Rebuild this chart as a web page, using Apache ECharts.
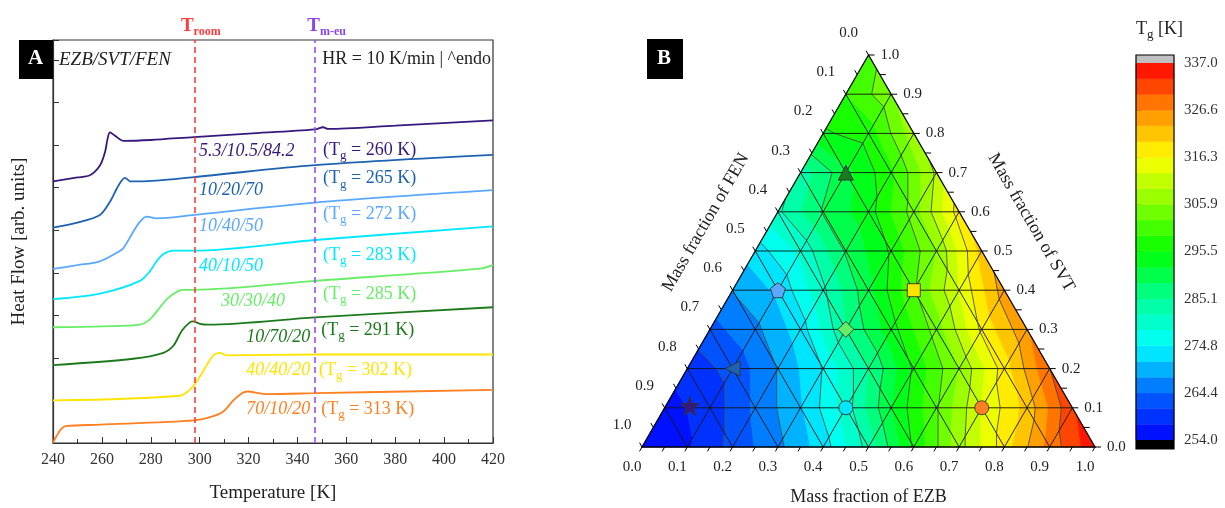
<!DOCTYPE html>
<html><head><meta charset="utf-8">
<script src="https://cdn.jsdelivr.net/npm/echarts@6/dist/echarts.min.js"></script>
<style>html,body{margin:0;padding:0;background:#fff}#c{width:1225px;height:508px}</style>
</head><body><div id="c"></div>
<script>
// ---------------- DATA: panel A (DSC curves, T [K] vs heat flow [arb.]) ----------------
const sampleEZB = [5.3, 10, 10, 40, 30, 10, 40, 70];
const sampleSVT = [10.5, 20, 40, 10, 30, 70, 40, 10];
const sampleFEN = [84.2, 70, 50, 50, 40, 20, 20, 20];
const sampleTg  = [260, 265, 272, 283, 285, 291, 302, 313];

const dsc1 = [[240,6.15],[250,6.24],[255.1,6.29],[259.2,6.52],[261.3,6.84],[262.3,7.14],[263.3,7.30],[265.4,7.22],[268.8,7.10],[280,7.12],[297.7,7.19],[320,7.27],[347.2,7.37],[350.5,7.42],[352.5,7.38],[380,7.46],[420,7.58]];
const dsc2 = [[240,5.06],[250,5.18],[259.2,5.36],[263.3,5.67],[266.1,5.98],[268.1,6.17],[269.5,6.23],[271.5,6.15],[275.6,6.15],[297.7,6.25],[347.2,6.53],[420,6.77]];
const dsc3 = [[240,4.09],[250,4.18],[259.2,4.27],[266.1,4.47],[268.8,4.58],[272.9,4.97],[275.6,5.20],[278.3,5.32],[282.4,5.28],[297.7,5.36],[347.2,5.65],[420,5.94]];
const dsc4 = [[240,3.38],[259.2,3.51],[275.6,3.81],[279.7,4.04],[282.4,4.27],[285.2,4.44],[289.3,4.52],[297.7,4.52],[347.2,4.77],[420,5.09]];
const dsc5 = [[240,2.72],[260,2.74],[275.6,2.78],[279.7,2.91],[283.8,3.19],[286.6,3.38],[290.0,3.53],[292.7,3.60],[297.7,3.60],[347.2,3.81],[414.8,4.10],[420,4.18]];
const dsc6 = [[240,1.83],[272.8,1.98],[285.2,2.12],[289.3,2.29],[292.7,2.64],[296.1,2.84],[297.4,2.86],[300.1,2.80],[303.6,2.78],[347.2,2.95],[420,3.19]];
const dsc7 = [[240,1.00],[291.9,1.11],[296.7,1.29],[300.1,1.56],[302.9,1.83],[305.6,2.06],[308.3,2.12],[311.1,2.06],[347.2,2.08],[420,2.08]];
const dsc8 = [[240,0.01],[241.4,0.16],[243.4,0.33],[245.5,0.40],[259.2,0.43],[297.7,0.53],[305.6,0.63],[309.7,0.74],[313.8,1.00],[317.3,1.17],[319.3,1.21],[327.5,1.15],[347.2,1.17],[420,1.25]];
const dscCurves = [dsc1, dsc2, dsc3, dsc4, dsc5, dsc6, dsc7, dsc8];

const tRoom = 298;   // K
const tMeltEu = 347; // K
const tempMin = 240, tempMax = 420, tempStep = 20;

// ---------------- DATA: panel B (Tg field at ternary grid nodes, rows of constant SVT) ----------------
// row index = SVT*10, entries along EZB = 0, 0.1, ...
const tgS00 = [254, 257, 262, 267, 273, 283, 296, 308, 318, 328, 336];
const tgS01 = [256, 259, 265, 271, 280, 292, 302, 313, 321, 333];
const tgS02 = [259, 262, 268, 275, 285, 296, 306, 318, 330];
const tgS03 = [263, 267, 273, 285, 294, 304, 317, 326];
const tgS04 = [268, 272, 281, 291, 302, 313, 325];
const tgS05 = [273, 279, 289, 296, 306, 321];
const tgS06 = [281, 289, 294, 304, 318];
const tgS07 = [283, 291, 298, 310];
const tgS08 = [295, 297, 308];
const tgS09 = [299, 305];
const tgS10 = [301];
const tgField = [tgS00, tgS01, tgS02, tgS03, tgS04, tgS05, tgS06, tgS07, tgS08, tgS09, tgS10];

const cbMin = 254.0, cbMax = 337.0, cbLevels = 24, cbTickCount = 8;
const ternTicks = [0.0, 0.1, 0.2, 0.3, 0.4, 0.5, 0.6, 0.7, 0.8, 0.9, 1.0];

// ---------------- STYLE / LAYOUT ----------------
const SERIF = "'Liberation Serif', 'DejaVu Serif', serif";
const sampleColors = ['#35197d', '#1f62b0', '#5aa8ff', '#00e8ff', '#66ee66', '#1c7a1c', '#ffe400', '#ff8020'];
const sampleSymbols = [
  'path://M50,0 L61.8,35.1 L98.1,35.1 L68.8,56.8 L79.4,91 L50,70 L20.6,91 L31.2,56.8 L1.9,35.1 L38.2,35.1 Z',
  'triangle',
  'path://M50,0 L97.6,34.5 L79.4,90.5 L20.6,90.5 L2.4,34.5 Z',
  'circle', 'diamond', 'triangle', 'rect', 'circle'];
const sampleSymRot = [0, 90, 0, 0, 0, 0, 0, 0];
const sampleSymSize = [19, 15, 15, 14, 16, 15, 13, 14];
// label anchors (data coords of panel A)
const compLabelT = [299.7, 299.7, 299.7, 299.7, 308.7, 345.2, 345.2, 345.2];
const compLabelY = [6.86, 5.93, 5.09, 4.16, 3.33, 2.49, 1.72, 0.79];
const compAlign = ['left','left','left','left','left','right','right','right'];
const tgLabelT = [350.5, 350.5, 350.5, 350.5, 350.5, 349.7, 348.8, 349.7];
const tgLabelY = [6.88, 6.21, 5.37, 4.42, 3.49, 2.65, 1.72, 0.79];

const cmapStops = [[0,[0,0,255]],[0.125,[0,100,255]],[0.25,[0,255,255]],[0.375,[0,255,150]],[0.5,[0,255,0]],[0.625,[135,255,0]],[0.75,[255,255,0]],[0.875,[255,140,0]],[1,[255,0,0]]];
function cmap(t) {
  t = Math.max(0, Math.min(1, t));
  for (let i = 1; i < cmapStops.length; i++) {
    if (t <= cmapStops[i][0]) {
      const a = cmapStops[i-1], b = cmapStops[i], f = (t - a[0]) / (b[0] - a[0]);
      const c = a[1].map((v, k) => Math.round(v + f * (b[1][k] - v)));
      return 'rgb(' + c.join(',') + ')';
    }
  }
  return 'rgb(255,0,0)';
}
const bandW = (cbMax - cbMin) / cbLevels;
const bandColor = k => cmap((k + 0.5) / cbLevels);

const tpos = (e, s) => [e + s / 2, s];
const N = tgField.length - 1;
const triList = [];
for (let i = 0; i < N; i++) {
  for (let j = 0; i + j <= N - 1; j++) {
    triList.push([[j/N, i/N, tgField[i][j]], [(j+1)/N, i/N, tgField[i][j+1]], [j/N, (i+1)/N, tgField[i+1][j]]]);
    if (i + j <= N - 2) {
      triList.push([[(j+1)/N, i/N, tgField[i][j+1]], [j/N, (i+1)/N, tgField[i+1][j]], [(j+1)/N, (i+1)/N, tgField[i+1][j+1]]]);
    }
  }
}
function clipPoly(poly, L, above) {
  const out = [];
  for (let i = 0; i < poly.length; i++) {
    const a = poly[i], b = poly[(i + 1) % poly.length];
    const ain = above ? a.v >= L : a.v <= L, bin = above ? b.v >= L : b.v <= L;
    if (ain) out.push(a);
    if (ain !== bin) {
      const t = (L - a.v) / (b.v - a.v);
      out.push({x: a.x + t * (b.x - a.x), y: a.y + t * (b.y - a.y), v: L});
    }
  }
  return out;
}
function renderField(params, api) {
  const tri = triList[params.dataIndex];
  const pts = tri.map(n => { const c = api.coord(tpos(n[0], n[1])); return {x: c[0], y: c[1], v: n[2]}; });
  const children = [];
  for (let k = 0; k < cbLevels; k++) {
    let poly = pts;
    if (k > 0) poly = clipPoly(poly, cbMin + k * bandW, true);
    if (poly.length >= 3 && k < cbLevels - 1) poly = clipPoly(poly, cbMin + (k + 1) * bandW, false);
    if (poly.length >= 3) {
      const col = bandColor(k);
      children.push({type: 'polygon', shape: {points: poly.map(p => [p.x, p.y])}, style: {fill: col, stroke: col, lineWidth: 0.7}});
    }
  }
  for (let k = 2; k < cbLevels; k += 2) {
    const L = cbMin + k * bandW, seg = [];
    for (let i = 0; i < 3; i++) {
      const a = pts[i], b = pts[(i + 1) % 3];
      if ((a.v - L) * (b.v - L) < 0) {
        const t = (L - a.v) / (b.v - a.v);
        seg.push([a.x + t * (b.x - a.x), a.y + t * (b.y - a.y)]);
      }
    }
    if (seg.length === 2) children.push({type: 'line', shape: {x1: seg[0][0], y1: seg[0][1], x2: seg[1][0], y2: seg[1][1]}, style: {stroke: '#444', lineWidth: 0.85}});
  }
  return {type: 'group', children};
}
function renderTernFrame(params, api) {
  const P = (e, s) => api.coord(tpos(e, s));
  const ch = [];
  const ln = (a, b, w, c) => ch.push({type: 'line', shape: {x1: a[0], y1: a[1], x2: b[0], y2: b[1]}, style: {stroke: c || '#111', lineWidth: w}});
  const txt = (x, y, t, align, extra) => ch.push(Object.assign({type: 'text', x, y, style: {text: t, fill: '#222', font: '15px ' + SERIF, align, verticalAlign: 'middle'}}, extra || {}));
  ternTicks.forEach(t => {
    if (t <= 0 || t >= 1) return;
    ln(P(0, t), P(1 - t, t), 0.9);
    ln(P(t, 0), P(t, 1 - t), 0.9);
    ln(P(1 - t, 0), P(0, 1 - t), 0.9);
  });
  ch.push({type: 'polygon', shape: {points: [P(0, 0), P(1, 0), P(0, 1)]}, style: {fill: null, stroke: '#000', lineWidth: 1.3}});
  for (let m = 0; m <= 20; m++) {
    const t = m / 20, L = 5;
    let p = P(t, 0); ln(p, [p[0] - 0.5 * L, p[1] + 0.866 * L], 1, '#000');
    p = P(1 - t, t); ln(p, [p[0] + L + 1, p[1]], 1, '#000');
    p = P(0, 1 - t); ln(p, [p[0] - 0.5 * L, p[1] - 0.866 * L], 1, '#000');
  }
  ternTicks.forEach(t => {
    const lab = t.toFixed(1);
    let p = P(t, 0); txt(p[0] - 10, p[1] + 20, lab, 'center');
    p = P(1 - t, t); txt(p[0] + 12, p[1], lab, 'left');
    p = P(0, 1 - t); txt(p[0] - 20, p[1] - 22, lab, 'center');
  });
  const fnt = '18px ' + SERIF;
  let p = P(0.5, 0);
  ch.push({type: 'text', x: p[0], y: p[1] + 50, style: {text: 'Mass fraction of EZB', fill: '#222', font: fnt, align: 'center', verticalAlign: 'middle'}});
  p = P(0, 0.5);
  ch.push({type: 'text', x: p[0] - 0.866 * 57, y: p[1] - 0.5 * 57, rotation: Math.PI / 3, style: {text: 'Mass fraction of FEN', fill: '#222', font: fnt, align: 'center', verticalAlign: 'middle'}});
  p = P(0.5, 0.5);
  ch.push({type: 'text', x: p[0] + 0.866 * 57, y: p[1] - 0.5 * 57, rotation: -Math.PI / 3, style: {text: 'Mass fraction of SVT', fill: '#222', font: fnt, align: 'center', verticalAlign: 'middle'}});
  return {type: 'group', children: ch};
}
function renderColorbar(params, api) {
  const k = params.dataIndex;
  const a = api.coord([0, k * cbTickCount / cbLevels]), b = api.coord([1, (k + 1) * cbTickCount / cbLevels]);
  const col = bandColor(k);
  return {type: 'rect', shape: {x: a[0], y: b[1], width: b[0] - a[0], height: a[1] - b[1]}, style: {fill: col, stroke: col, lineWidth: 0.5}};
}
function renderColorbarCaps(params, api) {
  const a = api.coord([0, 0]), b = api.coord([1, cbTickCount]);
  return {type: 'group', children: [
    {type: 'rect', shape: {x: a[0], y: a[1], width: b[0] - a[0], height: 9}, style: {fill: '#000'}},
    {type: 'rect', shape: {x: a[0], y: b[1] - 8, width: b[0] - a[0], height: 8}, style: {fill: '#c0c0c0'}},
    {type: 'rect', shape: {x: a[0], y: b[1] - 8, width: b[0] - a[0], height: a[1] - b[1] + 17}, style: {fill: null, stroke: '#000', lineWidth: 1.2}}
  ]};
}
function renderPanelAText(params, api) {
  const i = params.dataIndex, col = sampleColors[i];
  const c1 = api.coord([compLabelT[i], compLabelY[i]]);
  const c2 = api.coord([tgLabelT[i], tgLabelY[i]]);
  const comp = [sampleEZB[i], sampleSVT[i], sampleFEN[i]].join('/');
  return {type: 'group', children: [
    {type: 'text', x: c1[0], y: c1[1], style: {text: comp, fill: col, font: 'italic 18px ' + SERIF, align: compAlign[i], verticalAlign: 'middle'}},
    {type: 'text', x: c2[0], y: c2[1], style: {text: '{m|(T}{g|g}{m| = ' + sampleTg[i] + ' K)}', align: 'left', verticalAlign: 'middle',
      rich: {m: {fill: col, font: '18px ' + SERIF, lineHeight: 24, verticalAlign: 'middle'}, g: {fill: col, font: '13px ' + SERIF, lineHeight: 24, verticalAlign: 'bottom'}}}}
  ]};
}

const chart = echarts.init(document.getElementById('c'), null, {renderer: 'canvas', width: 1225, height: 508});

const lineSeries = dscCurves.map((d, i) => ({
  type: 'line', xAxisIndex: 0, yAxisIndex: 0, data: d, showSymbol: false, smooth: 0.3,
  lineStyle: {color: sampleColors[i], width: 1.8}, itemStyle: {color: sampleColors[i]}, z: 3, silent: true, animation: false
}));
lineSeries[0].markLine = {
  silent: true, symbol: ['none', 'none'], animation: false,
  data: [
    {xAxis: tRoom, lineStyle: {color: '#ff3b3b', type: [6, 4], width: 1.6},
     label: {show: true, position: 'end', distance: 2, formatter: '{t|T}{s|room}', offset: [6, 0],
       rich: {t: {color: '#ff3b3b', fontFamily: SERIF, fontSize: 19, fontWeight: 'bold', lineHeight: 24, verticalAlign: 'middle'},
              s: {color: '#ff3b3b', fontFamily: SERIF, fontSize: 12, fontWeight: 'bold', lineHeight: 24, verticalAlign: 'bottom'}}}},
    {xAxis: tMeltEu, lineStyle: {color: '#9a4dfa', type: [6, 4], width: 1.6},
     label: {show: true, position: 'end', distance: 2, formatter: '{t|T}{s|m-eu}', offset: [12, 0],
       rich: {t: {color: '#8c43f0', fontFamily: SERIF, fontSize: 19, fontWeight: 'bold', lineHeight: 24, verticalAlign: 'middle'},
              s: {color: '#8c43f0', fontFamily: SERIF, fontSize: 12, fontWeight: 'bold', lineHeight: 24, verticalAlign: 'bottom'}}}}
  ]
};

const option = {
  backgroundColor: '#fff',
  animation: false,
  textStyle: {fontFamily: SERIF},
  grid: [
    {left: 53, top: 40, width: 440, height: 407, show: true, borderColor: '#333', borderWidth: 1.2, backgroundColor: 'transparent'},
    {left: 642, top: 55, width: 453, height: 392, show: false},
    {left: 1136, top: 63, width: 38, height: 377, show: false}
  ],
  xAxis: [
    {gridIndex: 0, type: 'value', min: tempMin, max: tempMax, interval: tempStep,
     axisLine: {lineStyle: {color: '#333', width: 1.2}}, axisTick: {inside: true, length: 6, lineStyle: {color: '#333'}},
     minorTick: {show: true, splitNumber: 2, length: 4, lineStyle: {color: '#333'}}, splitLine: {show: false},
     axisLabel: {color: '#333', fontSize: 16, fontFamily: SERIF, margin: 9},
     name: 'Temperature [K]', nameLocation: 'middle', nameGap: 41, nameTextStyle: {color: '#222', fontSize: 19, fontFamily: SERIF}},
    {gridIndex: 1, type: 'value', min: 0, max: 1, show: false},
    {gridIndex: 2, type: 'value', min: 0, max: 1, show: false}
  ],
  yAxis: [
    {gridIndex: 0, type: 'value', min: 0, max: 9.47, interval: 1,
     axisLine: {show: true, lineStyle: {color: '#333', width: 1.2}}, axisTick: {show: true, inside: true, length: 6, lineStyle: {color: '#333'}},
     axisLabel: {show: false}, splitLine: {show: false},
     name: 'Heat Flow [arb. units]', nameLocation: 'middle', nameGap: 24, nameTextStyle: {color: '#222', fontSize: 19, fontFamily: SERIF}},
    {gridIndex: 1, type: 'value', min: 0, max: 1, show: false},
    {gridIndex: 2, type: 'value', min: 0, max: cbTickCount, interval: 1, position: 'right',
     axisLine: {show: false}, axisTick: {show: true, length: 6, lineStyle: {color: '#000'}}, splitLine: {show: false},
     axisLabel: {color: '#333', fontSize: 15, fontFamily: SERIF, margin: 10,
       formatter: v => (cbMin + v * (cbMax - cbMin) / cbTickCount).toFixed(1)}}
  ],
  graphic: [
    {type: 'rect', left: 19, top: 40, shape: {width: 34, height: 39}, style: {fill: '#000'}, z: 10},
    {type: 'text', left: 28, top: 48, style: {text: 'A', fill: '#fff', font: 'bold 21px ' + SERIF}, z: 11},
    {type: 'rect', left: 647, top: 39, shape: {width: 36, height: 40}, style: {fill: '#000'}, z: 10},
    {type: 'text', left: 657, top: 48, style: {text: 'B', fill: '#fff', font: 'bold 21px ' + SERIF}, z: 11},
    {type: 'text', left: 59, top: 50, style: {text: 'EZB/SVT/FEN', fill: '#222', font: 'italic 19px ' + SERIF}, z: 11},
    {type: 'text', right: 1225 - 491, top: 50, style: {text: 'HR = 10 K/min | ^endo', fill: '#222', font: '18px ' + SERIF}, z: 11},
    {type: 'text', left: 1136, top: 20, style: {text: '{m|T}{g|g}{m| [K]}',
      rich: {m: {fill: '#222', font: '18px ' + SERIF, lineHeight: 24, verticalAlign: 'middle'}, g: {fill: '#222', font: '13px ' + SERIF, lineHeight: 24, verticalAlign: 'bottom'}}}, z: 11}
  ],
  series: [
    ...lineSeries,
    {type: 'custom', xAxisIndex: 0, yAxisIndex: 0, data: sampleTg.map((_, i) => [tempMin, i]), renderItem: renderPanelAText, silent: true, z: 5, clip: false},
    {type: 'custom', xAxisIndex: 1, yAxisIndex: 1, data: triList.map((_, i) => [0, 0]), renderItem: renderField, silent: true, z: 1, clip: false},
    {type: 'custom', xAxisIndex: 1, yAxisIndex: 1, data: [[0, 0]], renderItem: renderTernFrame, silent: true, z: 2, clip: false},
    {type: 'scatter', xAxisIndex: 1, yAxisIndex: 1, silent: true, z: 6,
     data: sampleEZB.map((e, i) => ({
       value: tpos(e / 100, sampleSVT[i] / 100), symbol: sampleSymbols[i], symbolSize: sampleSymSize[i], symbolRotate: sampleSymRot[i],
       itemStyle: {color: sampleColors[i], borderColor: '#333', borderWidth: 0.9, opacity: 1}}))},
    {type: 'custom', xAxisIndex: 2, yAxisIndex: 2, data: Array.from({length: cbLevels}, () => [0, 0]), renderItem: renderColorbar, silent: true, z: 1, clip: false},
    {type: 'custom', xAxisIndex: 2, yAxisIndex: 2, data: [[0, 0]], renderItem: renderColorbarCaps, silent: true, z: 2, clip: false}
  ]
};
chart.setOption(option);
</script>
</body></html>
